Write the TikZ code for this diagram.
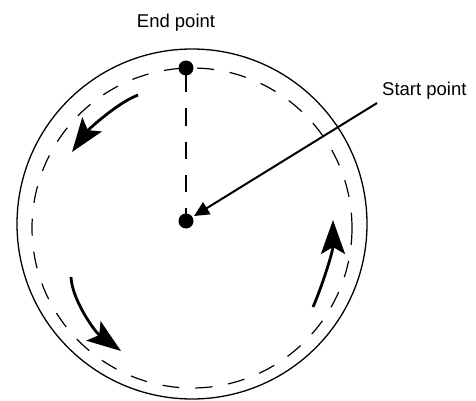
\documentclass[tikz,border=0pt]{standalone}
\usepackage{fontspec}
\setmainfont{Liberation Sans}
\usetikzlibrary{arrows.meta}

\begin{document}
\begin{tikzpicture}[
  x=1pt,y=-1pt,
  font=\fontsize{18.5}{22}\selectfont,
  rim/.style={draw,line width=1.3pt},
  track/.style={draw,line width=1.2pt,dash pattern=on 17pt off 16pt},
  dot/.style={circle,fill=black,inner sep=0pt,outer sep=0pt,minimum size=15pt},
  lbl/.style={inner sep=0pt},
  sweep/.style={line width=2.8pt,-{Stealth[length=34pt,width=24pt,inset=7pt]}},
  pointer/.style={line width=2pt,-{Triangle[length=15pt,width=14pt]},shorten >=2pt},
]
\useasboundingbox (0,0) rectangle (476,401);

% ---- the two circles: solid rim and dashed path ----
\draw[rim] (192,224) circle[radius=175];
\draw[track] (192,228) circle[radius=160];

% ---- end point on the path, start point at the centre ----
\node[dot] (endpt) at (186,68) {};
\node[dot] (centre) at (186,221) {};
\draw[track] (endpt) -- (centre);

% labels
\node[lbl,anchor=base] (endlbl) at (176,28) {End point};
\node[lbl,anchor=base west] (startlbl) at (382,96) {Start point};
\draw[pointer] ([xshift=-5pt,yshift=-3pt]startlbl.south west) -- (centre);

% ---- direction of travel, anticlockwise round the path ----
\draw[sweep] (138,95) .. controls (117,103) and (88,130) .. (72,152);
\draw[sweep] (71,277) .. controls (72,300) and (95,332) .. (121,351);
\draw[sweep] (313,307) .. controls (321,289) and (333,252) .. (333,220);

\end{tikzpicture}
\end{document}
